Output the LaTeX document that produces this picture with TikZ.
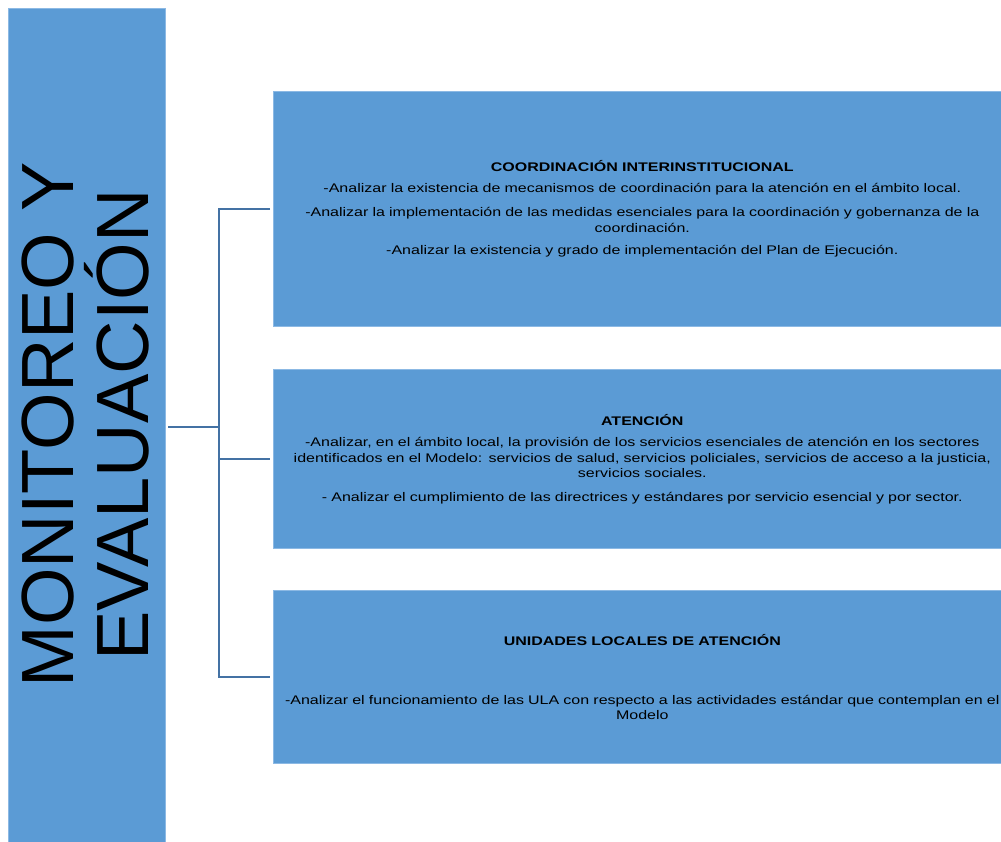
\documentclass[tikz,border=0pt]{standalone}
\usepackage{fontspec}
\setmainfont{Liberation Sans}
\newfontfamily\widesans[FakeStretch=1.28]{Liberation Sans}
\usetikzlibrary{calc}
\definecolor{boxblue}{RGB}{91,155,213}
\definecolor{boxedge}{RGB}{140,185,228}
\definecolor{linkblue}{RGB}{68,114,164}
\tikzset{
  panel/.style={fill=boxblue, draw=boxedge, line width=0.6pt, anchor=north west,
    minimum width=738pt, text width=736pt, align=center, inner sep=0pt,
    font=\widesans\fontsize{12.5}{15.5}\selectfont},
  sidebox/.style={fill=boxblue, draw=boxedge, line width=0.6pt, anchor=north west,
    minimum width=157pt, minimum height=840pt, inner sep=0pt},
  bigtext/.style={rotate=90, align=center, inner sep=0pt,
    font=\fontsize{74}{75}\selectfont},
  conn/.style={draw=linkblue, line width=2pt},
}
\begin{document}
\begin{tikzpicture}[x=1pt,y=-1pt]
\useasboundingbox (0,0) rectangle (1001,841);
\node[sidebox] (m) at (8,8) {};
\node[bigtext] (mt) at (86,425) {MONITOREO Y\\EVALUACIÓN};

\node[panel, minimum height=235.3pt] (b1) at (273,90.7) {%
\textbf{COORDINACIÓN INTERINSTITUCIONAL}\\[6.2pt]
-Analizar la existencia de mecanismos de coordinación para la atención en el ámbito local.\\[8.5pt]
-Analizar la implementación de las medidas esenciales para la coordinación y gobernanza de la\\
coordinación.\\[7pt]
-Analizar la existencia y grado de implementación del Plan de Ejecución.};

\node[panel, minimum height=178.7pt] (b2) at (273,369.3) {%
\textbf{ATENCIÓN}\\[6.2pt]
-Analizar, en el ámbito local, la provisión de los servicios esenciales de atención en los sectores\\
identificados en el Modelo: servicios de salud, servicios policiales, servicios de acceso a la justicia,\\
servicios sociales.\\[8pt]
- Analizar el cumplimiento de las directrices y estándares por servicio esencial y por sector.};

\node[panel, minimum height=172.7pt] (b3) at (273,590.3) {%
\textbf{UNIDADES LOCALES DE ATENCIÓN}\\[43.5pt]
-Analizar el funcionamiento de las ULA con respecto a las actividades estándar que contemplan en el\\
Modelo};

\coordinate (start) at (168,427.3);
\coordinate (hub) at (219,427.3);
\draw[conn] (start) -- (hub);
\draw[conn] ([xshift=-3pt]b1.west) -| (hub |- b3.west) -- ([xshift=-3pt]b3.west);
\draw[conn] (hub |- b2.west) -- ([xshift=-3pt]b2.west);
\end{tikzpicture}
\end{document}
